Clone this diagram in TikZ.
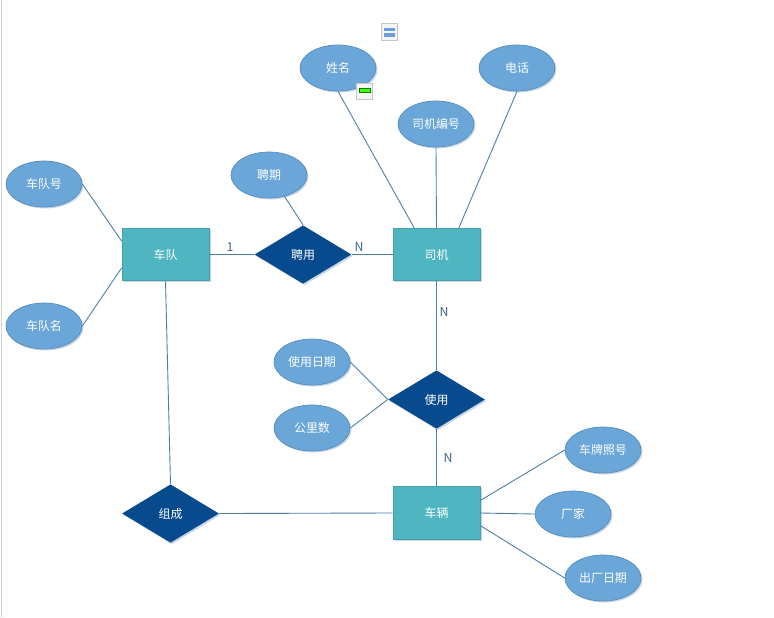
\documentclass[tikz,border=0pt]{standalone}
\usepackage{xcolor}
\usepackage{fontspec}
\setmainfont{Noto Sans CJK SC}
\usepackage{tikz}
\usetikzlibrary{shapes.geometric,shadows}

\definecolor{attrblue}{HTML}{6AA7D8}
\definecolor{attredge}{HTML}{568DBB}
\definecolor{entteal}{HTML}{4FB5C0}
\definecolor{entedge}{HTML}{45A0AB}
\definecolor{reldark}{HTML}{084A8E}
\definecolor{linkblue}{HTML}{4A7DA8}
\definecolor{softshadow}{HTML}{C9D6E6}

\begin{document}
\begin{tikzpicture}[
    softdrop/.style={drop shadow={shadow xshift=0.03cm, shadow yshift=-0.03cm, fill=softshadow, opacity=1}},
    attr/.style={draw=attredge, fill=attrblue, ellipse, softdrop, text=white, inner sep=0pt, minimum width=1.52cm, minimum height=0.92cm, font=\fontsize{6.8pt}{8pt}\selectfont},
    entity/.style={draw=entedge, fill=entteal, rectangle, softdrop, text=white, inner sep=0pt, minimum width=1.74cm, minimum height=1.05cm, font=\fontsize{6.8pt}{8pt}\selectfont},
    relation/.style={fill=reldark, diamond, softdrop, text=white, inner sep=0pt, aspect=1.67, minimum width=1.94cm, minimum height=1.17cm, font=\fontsize{6.8pt}{8pt}\selectfont},
    link/.style={draw=linkblue, line width=0.5pt},
    card/.style={text=linkblue!80!black, inner sep=0pt, font=\fontsize{7pt}{8pt}\selectfont},
    iconbox/.style={draw=gray!45, fill=gray!8, rectangle, inner sep=0pt, minimum size=0.33cm},
    iconbar/.style={rectangle, inner sep=0pt, minimum width=0.22cm}
]
    \useasboundingbox (0, 0) rectangle (15.48, 12.34);

    % Page edge
    \coordinate (edgetop) at (0.03, 12.34);
    \coordinate (edgebot) at (0.03, 0);
    \draw[gray!35, line width=0.6pt] (edgetop) -- (edgebot);

    % Entities
    \node[entity] (team) at (3.31, 7.25) {车队};
    \node[entity] (driver) at (8.73, 7.25) {司机};
    \node[entity] (truck) at (8.73, 2.08) {车辆};

    % Relations
    \node[relation] (hire) at (6.06, 7.25) {聘用};
    \node[relation] (use) at (8.73, 4.35) {使用};
    \node[relation] (form) at (3.41, 2.07) {组成};

    % Attributes
    \node[attr] (teamno) at (0.88, 8.66) {车队号};
    \node[attr] (teamname) at (0.88, 5.82) {车队名};
    \node[attr] (term) at (5.38, 8.84) {聘期};
    \node[attr] (name) at (6.76, 10.98) {姓名};
    \node[attr] (driverno) at (8.72, 9.86) {司机编号};
    \node[attr] (phone) at (10.34, 10.98) {电话};
    \node[attr] (usedate) at (6.24, 5.10) {使用日期};
    \node[attr] (mileage) at (6.24, 3.78) {公里数};
    \node[attr] (plate) at (12.06, 3.34) {车牌照号};
    \node[attr] (maker) at (11.46, 2.06) {厂家};
    \node[attr] (builddate) at (12.06, 0.78) {出厂日期};

    % Attribute links
    \draw[link] (teamno.east) -- (team.163);
    \draw[link] (teamname.east) -- (team.197);
    \draw[link] (term.-54) -- (hire.north);
    \draw[link] (name.south) -- (driver.130);
    \draw[link] (driverno.south) -- (driver.north);
    \draw[link] (phone.south) -- (driver.50);
    \draw[link] (usedate.east) -- (use.west);
    \draw[link] (mileage.east) -- (use.west);
    \draw[link] (plate.west) -- (truck.16.6);
    \draw[link] (maker.west) -- (truck.east);
    \draw[link] (builddate.west) -- (truck.-16.6);

    % Relation links
    \draw[link] (team.east) -- (hire.west);
    \draw[link] (hire.east) -- (driver.west);
    \draw[link] (driver.south) -- (use.north);
    \draw[link] (use.south) -- (truck.north);
    \draw[link] (team.south) -- (form.north);
    \draw[link] (form.east) -- (truck.west);

    % Cardinalities
    \node[card] (cardone) at (4.60, 7.40) {1};
    \node[card] (cardhire) at (7.18, 7.40) {N};
    \node[card] (carddriver) at (8.88, 6.10) {N};
    \node[card] (cardtruck) at (8.96, 3.18) {N};

    % Small toolbar icons
    \node[iconbox] (iconstack) at (7.79, 11.70) {};
    \node[iconbar, fill=cyan!55!blue!60, minimum height=0.07cm] (stacktop) at (7.79, 11.75) {};
    \node[iconbar, fill=cyan!55!blue!60, minimum height=0.07cm] (stackbot) at (7.79, 11.64) {};
    \node[iconbox] (iconbar) at (7.29, 10.51) {};
    \node[iconbar, draw=green!50!black, fill=green!70!yellow, minimum height=0.09cm] (greenbar) at (7.29, 10.53) {};
\end{tikzpicture}
\end{document}
